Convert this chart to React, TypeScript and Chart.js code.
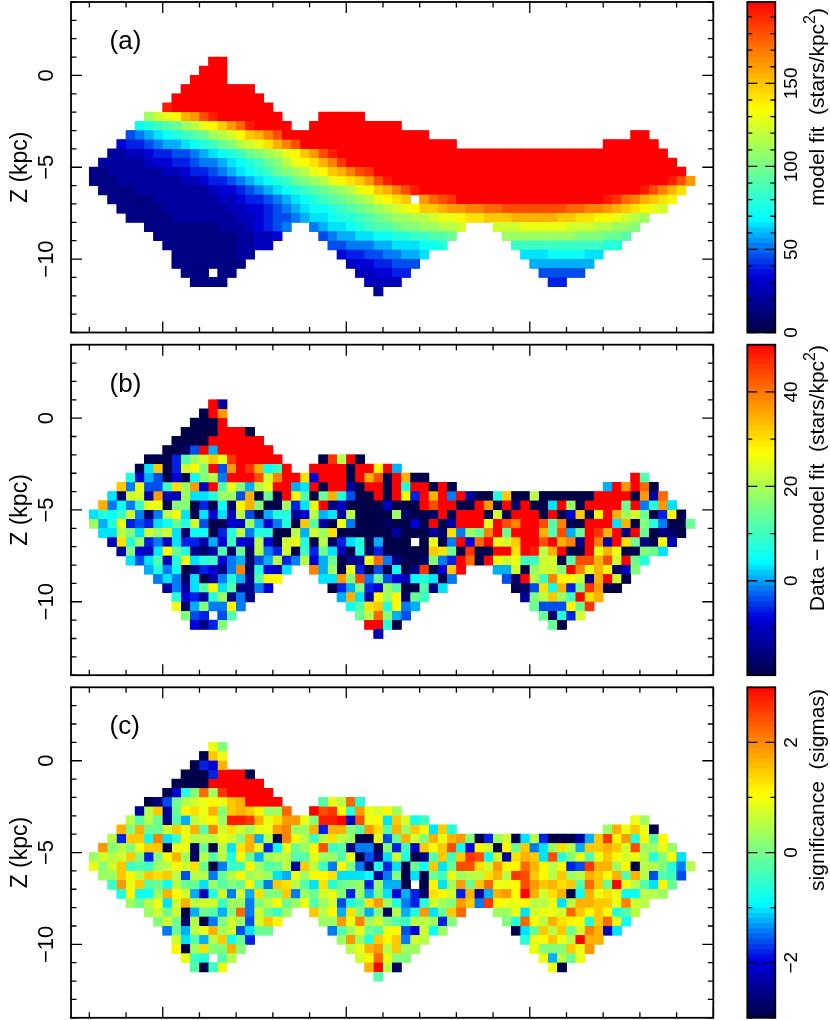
import React, { useEffect, useRef } from "react";
import { Chart, registerables } from "chart.js";

Chart.register(...registerables);

// ---------- data: [grid row, first grid column, colour levels "0".."v" (0..31 of the panel's range)] ----------
const LEVEL_CHARS = "0123456789abcdefghijklmnopqrstuv";

const MODEL_ROWS: [number, number, string][] = [
  [6, 15, "vv"],
  [7, 14, "vvv"],
  [8, 13, "vvvv"],
  [9, 12, "vvvvvvvv"],
  [10, 11, "vvvvvvvvvv"],
  [11, 10, "uvvvvvvvvvvv"],
  [12, 8, "hjklopsuvvvvvvv"],
  [12, 27, "vvvvv"],
  [13, 7, "bcdefhiklnpruvvvv"],
  [13, 26, "vvvvvvvvvv"],
  [14, 6, "789abcdefhijlnoqsvvvvvvvvvvvvvvvv"],
  [14, 61, "vv"],
  [15, 5, "5667899abcdfgijkmoqsvvvvvvvvvvvvvvvvv"],
  [15, 58, "vvvvvv"],
  [16, 4, "33445667789abcdfghiklnpsuvvvvvvvvvvvvvvvvvvvvvvvvvvvvvvvvvvvv"],
  [17, 3, "33333455667889abcdfgiklmoqtvvvvvvvvvvvvvvvvvvvvvvvvvvvvvvvvvvvv"],
  [18, 2, "2233333344566789abcdfghiklnoqstvvvvvvvvvvvvvvvvvvvvvvvvvvvvvvvvvv"],
  [19, 2, "222333333344566789abcdfghiklmnpsuvvvvvvvvvvvvvvvvvvvvvvvvvvvvvvusp"],
  [20, 3, "2222333333334556789abcdefghiklnoqsuvvvvvvvvvvvvvvvvvvvvvvvvusqom"],
  [21, 4, "22222333333344566789abcdefghiklmn"],
  [21, 38, "prstvvvvvvvvvvvvvvvvutrqonml"],
  [22, 5, "22222333333344556789abbcdefghijklnnoppqqrrsssssssrrqqponmlkj"],
  [23, 6, "22222333333344567789aabccdefghhiijkklmmnnnooooonnmmllkjih"],
  [24, 8, "2222222233345678"],
  [24, 26, "89aabcdeefgghhiij"],
  [24, 46, "jjjkkkkkjjjiihhg"],
  [25, 9, "22222222233445"],
  [25, 27, "7899aabbccddeef"],
  [25, 47, "hhhhhhhhgggffe"],
  [26, 10, "222222223344"],
  [26, 28, "7788899aaabbc"],
  [26, 48, "ddddddddddcc"],
  [27, 11, "222222233"],
  [27, 29, "566778899a"],
  [27, 49, "aaabbbbaa"],
  [28, 11, "22222222"],
  [28, 30, "45566777"],
  [28, 50, "9999999"],
  [29, 12, "222"],
  [29, 16, "22"],
  [29, 31, "445566"],
  [29, 51, "77777"],
  [30, 13, "2222"],
  [30, 32, "4444"],
  [30, 52, "66"],
  [31, 33, "3"],
];

const RESIDUAL_ROWS: [number, number, string][] = [
  [6, 15, "v3"],
  [7, 14, "0vp"],
  [8, 13, "000v"],
  [9, 12, "0000vvv0"],
  [10, 11, "0000vvvvvv"],
  [11, 10, "0017v9vvvvvv"],
  [12, 8, "0006ehjnktvvvvv"],
  [12, 27, "0tiv0"],
  [13, 7, "0an06jlgv7pvtobdv"],
  [13, 26, "vvvv0vvlv9"],
  [14, 6, "c597050bgi8vvvsjqvvm5vvv0vos0vo00"],
  [14, 61, "ve"],
  [15, 5, "n8k77dmhp4vekg9ikvv9av0vv30vv0vcvv0v0"],
  [15, 58, "9vpvr0"],
  [16, 4, "a1jj3p44haachh7o0f0vle0foc700v0vl6vov8v300cn00i000000vvvv0p3r"],
  [17, 3, "o8b8dkk0gg060b1log00h6akv2400004000vsvv00vp0v1v00avh0vvvvfv8cpa"],
  [18, 2, "acbdj818ila0a5a4i709cc35i9a3i0000h1001v0vvv0j0vvv0v05n0lvohjf06l0"],
  [19, 2, "h9ck676abfcj70054h958c0ne30k800010050v03vvvkvsqvvseq00vvvao0gc800f"],
  [20, 3, "aaigajhja1bb06ci8cc00i9jhm000000300031m8hfqvfvvvoes9fvtov2vf0210"],
  [21, 4, "4mch684a66395d54i50jkc0i16ac09000"],
  [21, 38, "0k08v5rvkjnvvsvoq2vq3vmf20l4"],
  [22, 5, "3g54alfc213e1f1i86j0d6fa40c1600000nmf0t00vvmvuiov00vkok00gfa"],
  [23, 6, "a7ae4ckacd589179i68i59f023kr82001g86vr0vljkddjj0essosjvfc"],
  [24, 8, "9c8b026528q1c54a"],
  [24, 26, "q9h0k6070b02t05nv"],
  [24, 46, "99j0hjjgvqkol14g"],
  [25, 9, "8a81a038c92ell"],
  [25, 27, "aapgs8f754bca08"],
  [25, 47, "71vidqllj2ovj0"],
  [26, 10, "383aelae2285"],
  [26, 28, "069g65he00e2a"],
  [26, 48, "017mbo6ftp00"],
  [27, 11, "c563ch282"],
  [27, 29, "9oa3lhl1fd"],
  [27, 49, "3ginhdvmo"],
  [28, 11, "k19g88l8"],
  [28, 30, "bemncl89"],
  [28, 50, "f777lft"],
  [29, 12, "g76"],
  [29, 16, "7e"],
  [29, 31, "firg97"],
  [29, 51, "f1c6j"],
  [30, 13, "526g"],
  [30, 32, "vvc0"],
  [30, 52, "f0"],
  [31, 33, "4"],
];

const SIGNIFICANCE_ROWS: [number, number, string][] = [
  [6, 15, "kg"],
  [7, 14, "0nk"],
  [8, 13, "065o"],
  [9, 12, "0006vvv0"],
  [10, 11, "0000vvvvvv"],
  [11, 10, "05cgrhtvvvvv"],
  [12, 8, "027fijklknovvvv"],
  [12, 27, "ekirc"],
  [13, 7, "3in3flmkognonlhhr"],
  [13, 26, "vstlcpkjlh"],
  [14, 6, "ieif2e9iklhuutokmppkguuv4sklanjbd"],
  [14, 61, "kh"],
  [15, 5, "ogoffjnkoeqjmjhkkpqhho6oogepmeohnlanc"],
  [15, 58, "hoknk0"],
  [16, 4, "i6nnbqadkiiikjgo9i0qlidimih00k7fojgokopg06hj0ai600039ntlpclel"],
  [17, 3, "pgigknn0kk1f0iamok6bkfhlsde2880g6d4nlnsb5lj0lfn8ahmi9nnonjshhkh"],
  [18, 2, "hjijng6gloh1ieiclf9hiieekhhek072ajc02endntsbj3monascgkeknljkicgla"],
  [19, 2, "kgjndedhiljmf08ddlhefi3nid8lg81c6a0fbnafssmjpllrolil67toohl0iigc8i"],
  [20, 3, "hhnlinmni7ii8filhiha9khllmaaab38g0a0fdkhiimoitsnlinhionloeoi7ed7"],
  [21, 4, "dpknefbiffahegfle8nmieamcfgh6h990"],
  [21, 38, "0lahpfnrkklspnomnernfvliealf"],
  [22, 5, "clbbholj94cj8j9mggn8hfjkg6h9ga5961mlj6o39oplvojmo0bokmkbbiih"],
  [23, 6, "hfikajoijjdhh8gilfhkehj7cemphc86cjhgpn8tlkkliikaioonnkqji"],
  [24, 8, "hjfj09fe9gr8jfdh"],
  [24, 26, "nil9mg9g1i9cpafnr"],
  [24, 46, "hhkajkkjrnlnlcei"],
  [25, 9, "gjf1i08gjh7jnl"],
  [25, 27, "hhpkqhjgediih6g"],
  [25, 47, "gcrliomllcnrkb"],
  [26, 10, "8f9ikohj7aff"],
  [26, 28, "8ehkfekl75jbh"],
  [26, 48, "0afninfjqo4a"],
  [27, 11, "jae9inbf6"],
  [27, 29, "hphcnln8ji"],
  [27, 49, "cklnkivoo"],
  [28, 11, "l0hmggog"],
  [28, 30, "ikopinhh"],
  [28, 50, "kgggnkp"],
  [29, 12, "kdc"],
  [29, 16, "ei"],
  [29, 31, "jlrkgg"],
  [29, 51, "k9ifk"],
  [30, 13, "e0dk"],
  [30, 32, "ovi1"],
  [30, 52, "k0"],
  [31, 33, "e"],
];

const Z_TICKS = [-10, -5, 0];
const MODEL_TICKS = [0, 50, 100, 150];
const RESIDUAL_TICKS = [0, 20, 40];
const SIGNIFICANCE_TICKS = [-2, 0, 2];

// ---------- appearance ----------
const FONT = "'Liberation Sans', sans-serif";
const RAMP: [number, number, number, number][] = [
  [0, 0, 0, 74],
  [0.17, 0, 0, 222],
  [0.25, 0, 110, 245],
  [0.34, 0, 255, 255],
  [0.51, 127, 255, 127],
  [0.67, 255, 255, 0],
  [0.84, 255, 128, 0],
  [1, 255, 0, 0],
];

function colorAt(t: number): string {
  for (let i = 1; i < RAMP.length; i++) {
    if (t <= RAMP[i][0]) {
      const a = RAMP[i - 1];
      const b = RAMP[i];
      const f = (t - a[0]) / (b[0] - a[0]);
      const c = [1, 2, 3].map((k) => Math.round(a[k] + (b[k] - a[k]) * f));
      return `rgb(${c[0]},${c[1]},${c[2]})`;
    }
  }
  return "rgb(255,0,0)";
}

const formatTick = (v: number) => String(v).replace("-", "\u2212");

function drawSideTicks(scale: any, from: number, to: number, step: number, isMajor: (v: number) => boolean, draw: (px: number, len: number) => void, majorLen: number, minorLen: number) {
  for (let v = from; v <= to + 1e-6; v += step) {
    draw(scale.getPixelForValue(v), isMajor(v) ? majorLen : minorLen);
  }
}

const isMult = (v: number, m: number) => Math.abs(v / m - Math.round(v / m)) < 1e-6;

function panelPlugin(letter: string) {
  return {
    id: "panelFrame",
    afterDatasetsDraw(chart: any) {
      const { ctx, chartArea: a, scales } = chart;
      ctx.save();
      ctx.strokeStyle = "#000";
      ctx.fillStyle = "#000";
      ctx.lineWidth = 1.3;
      ctx.beginPath();
      drawSideTicks(scales.x, -4, 30, 2, (v) => isMult(v, 10), (px, len) => {
        ctx.moveTo(px, a.top);
        ctx.lineTo(px, a.top + len);
        ctx.moveTo(px, a.bottom);
        ctx.lineTo(px, a.bottom - len);
      }, 11, 5.5);
      drawSideTicks(scales.y, -14, 4, 1, (v) => isMult(v, 5), (px, len) => {
        ctx.moveTo(a.left, px);
        ctx.lineTo(a.left + len, px);
        ctx.moveTo(a.right, px);
        ctx.lineTo(a.right - len, px);
      }, 11, 5.5);
      ctx.stroke();
      ctx.lineWidth = 1.8;
      ctx.strokeRect(a.left, a.top, a.right - a.left, a.bottom - a.top);
      ctx.font = `26px ${FONT}`;
      ctx.textAlign = "left";
      ctx.textBaseline = "middle";
      ctx.fillText(letter, scales.x.getPixelForValue(-2.9), scales.y.getPixelForValue(1.84));
      ctx.restore();
    },
  };
}

function barPlugin(titleParts: string[], titleEnd: number, tickStep: number, majorStep: number, lo: number, hi: number) {
  return {
    id: "barFrame",
    afterDatasetsDraw(chart: any) {
      const { ctx, chartArea: a, scales } = chart;
      ctx.save();
      ctx.strokeStyle = "#000";
      ctx.fillStyle = "#000";
      ctx.lineWidth = 1.3;
      ctx.beginPath();
      const first = Math.ceil(lo / tickStep) * tickStep;
      drawSideTicks(scales.y, first, hi, tickStep, (v) => isMult(v, majorStep), (px, len) => {
        ctx.moveTo(a.left, px);
        ctx.lineTo(a.left + len, px);
        ctx.moveTo(a.right, px);
        ctx.lineTo(a.right - len, px);
      }, 10, 5);
      ctx.stroke();
      ctx.lineWidth = 1.8;
      ctx.strokeRect(a.left, a.top, a.right - a.left, a.bottom - a.top);
      // title reads upward, ending near the top of the bar
      const big = `21px ${FONT}`;
      const small = `16px ${FONT}`;
      ctx.translate(78, titleEnd);
      ctx.rotate(-Math.PI / 2);
      ctx.textAlign = "left";
      ctx.textBaseline = "middle";
      const sizes = titleParts.map((t, i) => {
        ctx.font = i === 1 ? small : big;
        return ctx.measureText(t).width;
      });
      let pos = -sizes.reduce((s, w) => s + w, 0);
      titleParts.forEach((t, i) => {
        ctx.font = i === 1 ? small : big;
        ctx.fillText(t, pos, i === 1 ? -7 : 0);
        pos += sizes[i];
      });
      ctx.restore();
    },
  };
}

function makePanel(canvas: HTMLCanvasElement, rows: [number, number, string][], letter: string, padTop: number) {
  const points: { x: number; y: number }[] = [];
  const colors: string[] = [];
  rows.forEach(([row, col, levels]) => {
    Array.from(levels).forEach((ch, i) => {
      points.push({ x: -5 + (col + i + 0.5) * 0.5, y: 4 - (row + 0.5) * 0.5 });
      colors.push(colorAt(LEVEL_CHARS.indexOf(ch) / 31));
    });
  });
  const cell = (radius: number) => ({
    data: points,
    pointStyle: "rect",
    pointRadius: radius,
    pointBorderWidth: 0,
    pointBackgroundColor: colors,
    showLine: false,
  });
  return new Chart(canvas, {
    type: "scatter",
    // the first dataset is painted last: exact cells above a slightly larger copy that closes the seams
    data: { datasets: [cell(6.5), cell(7.05)] },
    options: {
      animation: false,
      responsive: false,
      events: [],
      layout: { autoPadding: false, padding: { left: 0, top: padTop, right: 21.7, bottom: 335 - padTop - 330.5 } },
      plugins: { legend: { display: false }, tooltip: { enabled: false } },
      scales: {
        x: { type: "linear", min: -5, max: 30, display: false },
        y: {
          type: "linear",
          min: -14,
          max: 4,
          position: "left",
          afterBuildTicks: (s: any) => {
            s.ticks = Z_TICKS.map((value) => ({ value }));
          },
          afterFit: (s: any) => {
            s.width = 71;
            s.paddingTop = 0;
            s.paddingBottom = 0;
          },
          grid: { display: false, drawTicks: false },
          border: { display: false },
          ticks: {
            autoSkip: false,
            minRotation: 90,
            maxRotation: 90,
            crossAlign: "center",
            padding: 5,
            color: "#000",
            font: { family: FONT, size: 22 },
            callback: (v: any) => formatTick(v),
          },
          title: {
            display: true,
            text: "Z (kpc)",
            color: "#000",
            font: { family: FONT, size: 23 },
            padding: { top: 7, bottom: 0 },
          },
        },
      },
    },
    plugins: [panelPlugin(letter)],
  } as any);
}

function makeBar(canvas: HTMLCanvasElement, lo: number, hi: number, ticks: number[], step: number, majorStep: number, labelPad: number, padTop: number, titleParts: string[], titleEnd: number) {
  const bands = 64;
  const width = (hi - lo) / bands;
  const datasets = [];
  for (let i = 0; i < bands; i++) {
    datasets.push({
      data: [[lo + i * width, lo + (i + 1.25) * width]],
      backgroundColor: colorAt((i + 0.5) / bands),
      borderWidth: 0,
      grouped: false,
      barPercentage: 1,
      categoryPercentage: 1,
    });
  }
  return new Chart(canvas, {
    type: "bar",
    data: { labels: [""], datasets },
    options: {
      animation: false,
      responsive: false,
      events: [],
      layout: { autoPadding: false, padding: { left: 7.3, top: padTop, right: 0, bottom: 345 - padTop - 330.5 } },
      plugins: { legend: { display: false }, tooltip: { enabled: false } },
      scales: {
        x: { display: false },
        y: {
          type: "linear",
          min: lo,
          max: hi,
          position: "right",
          afterBuildTicks: (s: any) => {
            s.ticks = ticks.map((value) => ({ value }));
          },
          afterFit: (s: any) => {
            s.width = 54.7;
            s.paddingTop = 0;
            s.paddingBottom = 0;
          },
          grid: { display: false, drawTicks: false },
          border: { display: false },
          ticks: {
            autoSkip: false,
            minRotation: 90,
            maxRotation: 90,
            crossAlign: "center",
            padding: labelPad,
            color: "#000",
            font: { family: FONT, size: 19 },
            callback: (v: any) => formatTick(v),
          },
        },
      },
    },
    plugins: [barPlugin(titleParts, titleEnd, step, majorStep, lo, hi)],
  } as any);
}

const ROW_TOPS = [0, 342, 685];
const PAD_TOPS = [2, 2.7, 2.3];

export default function App() {
  const refs = useRef<(HTMLCanvasElement | null)[]>([]);
  useEffect(() => {
    const c = refs.current as HTMLCanvasElement[];
    const charts = [
      makePanel(c[0], MODEL_ROWS, "(a)", PAD_TOPS[0]),
      makePanel(c[1], RESIDUAL_ROWS, "(b)", PAD_TOPS[1]),
      makePanel(c[2], SIGNIFICANCE_ROWS, "(c)", PAD_TOPS[2]),
      makeBar(c[3], 0, 199, MODEL_TICKS, 10, 50, 1, PAD_TOPS[0], ["model fit  (stars/kpc", "2", ")"], 8),
      makeBar(c[4], -20, 50, RESIDUAL_TICKS, 10, 20, 6, PAD_TOPS[1], ["Data \u2212 model fit  (stars/kpc", "2", ")"], 3),
      makeBar(c[5], -3, 3, SIGNIFICANCE_TICKS, 1, 2, 6, PAD_TOPS[2], ["significance  (sigmas)", "", ""], 4),
    ];
    return () => charts.forEach((ch) => ch.destroy());
  }, []);
  return (
    <div style={{ position: "absolute", left: 0, top: 0, width: 830, height: 1020, overflow: "hidden", background: "#fff" }}>
      {ROW_TOPS.map((top, i) => (
        <canvas key={"p" + i} ref={(el) => { refs.current[i] = el; }} width={735} height={335} style={{ position: "absolute", left: 0, top, width: 735, height: 335 }} />
      ))}
      {ROW_TOPS.map((top, i) => (
        <canvas key={"b" + i} ref={(el) => { refs.current[3 + i] = el; }} width={90} height={345} style={{ position: "absolute", left: 740, top, width: 90, height: 345 }} />
      ))}
    </div>
  );
}
